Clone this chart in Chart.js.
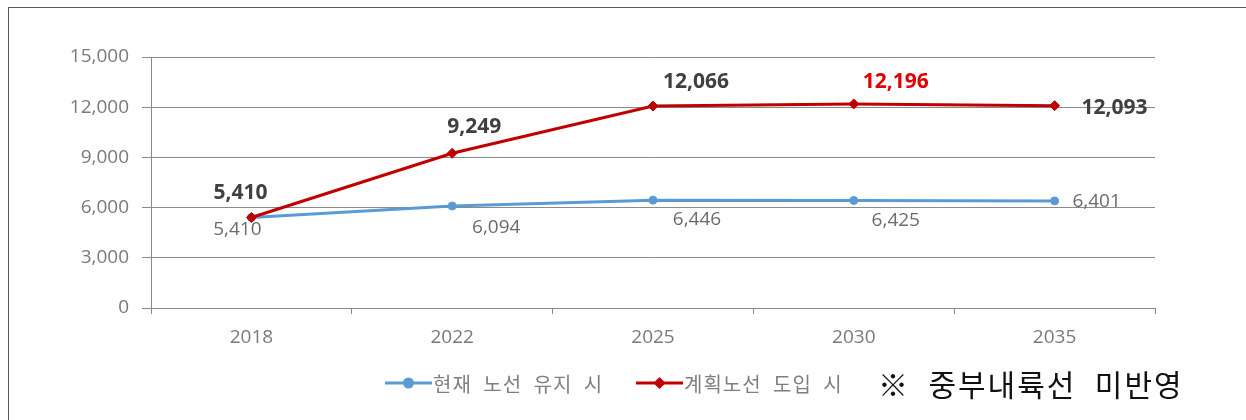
<!DOCTYPE html>
<html lang="ko">
  <head>
    <meta charset="UTF-8" />
    <title>노선 비교</title>
    <script src="https://cdn.jsdelivr.net/npm/chart.js@4.4.1/dist/chart.umd.min.js"></script>
    <style>
      html, body { margin: 0; padding: 0; background: #fff; }
      #wrap { position: relative; width: 1246px; height: 420px; overflow: hidden; }
      #frame {
        position: absolute; left: 8px; top: 7px; width: 1300px; height: 500px;
        border-left: 1px solid #5a5a5a; border-top: 1px solid #5a5a5a;
      }
      #note {
        position: absolute; left: 878px; top: 361px;
        font-family: "Noto Sans CJK KR", sans-serif; font-size: 30px;
        letter-spacing: 2px; word-spacing: 8px; color: #111; white-space: nowrap;
      }
      canvas { position: absolute; left: 0; top: 0; }
    </style>
  </head>
  <body>
    <div id="wrap">
      <div id="frame"></div>
      <canvas id="chart" width="1246" height="420"></canvas>
      <div id="note">※ 중부내륙선 미반영</div>
    </div>
    <script>
      const years = ['2018', '2022', '2025', '2030', '2035'];
      const currentRoute = [5410, 6094, 6446, 6425, 6401];
      const plannedRoute = [5410, 9249, 12066, 12196, 12093];
      const seriesNames = ['현재 노선 유지 시', '계획노선 도입 시'];

      const blue = '#5B9BD5';
      const red = '#C00000';

      // label offsets relative to each point (px)
      const labelStyle = {
        0: {
          offsets: [[-14, 12], [44, 22], [44, 19], [42, 20], [42, 1]],
          font: '400 19px "Open Sans"',
          colors: ['#6b6b6b', '#6b6b6b', '#6b6b6b', '#6b6b6b', '#6b6b6b']
        },
        1: {
          offsets: [[-11, -24], [22, -26], [43, -24], [42, -22], [60, 2]],
          font: '700 21px "Open Sans"',
          colors: ['#404040', '#404040', '#404040', '#E00000', '#404040']
        }
      };

      const pointLabels = {
        id: 'pointLabels',
        afterDatasetsDraw(chart) {
          const ctx = chart.ctx;
          ctx.save();
          ctx.textAlign = 'center';
          ctx.textBaseline = 'middle';
          chart.data.datasets.forEach((ds, i) => {
            const st = labelStyle[i];
            chart.getDatasetMeta(i).data.forEach((pt, j) => {
              ctx.font = st.font;
              ctx.fillStyle = st.colors[j];
              ctx.fillText(
                ds.data[j].toLocaleString('en-US'),
                pt.x + st.offsets[j][0],
                pt.y + st.offsets[j][1]
              );
            });
          });
          ctx.restore();
        }
      };

      const bottomLegend = {
        id: 'bottomLegend',
        afterDraw(chart) {
          const ctx = chart.ctx;
          const y = 383;
          const items = [
            { x: 385, color: blue, style: 'circle' },
            { x: 636, color: red, style: 'rectRot' }
          ];
          ctx.save();
          items.forEach((it, i) => {
            ctx.strokeStyle = it.color;
            ctx.lineWidth = 3;
            ctx.beginPath();
            ctx.moveTo(it.x, y);
            ctx.lineTo(it.x + 47, y);
            ctx.stroke();
            ctx.fillStyle = it.color;
            Chart.helpers.drawPoint(ctx, { pointStyle: it.style, radius: 4, borderWidth: 1 }, it.x + 23.5, y);
            ctx.fill();
            ctx.font = '400 20px "Noto Sans CJK KR"';
            ctx.letterSpacing = '1px';
            ctx.wordSpacing = '6px';
            ctx.fillStyle = '#7f7f7f';
            ctx.textBaseline = 'middle';
            ctx.textAlign = 'left';
            ctx.fillText(seriesNames[i], it.x + 48, y + 1);
          });
          ctx.restore();
        }
      };

      new Chart(document.getElementById('chart'), {
        type: 'line',
        data: {
          labels: years,
          datasets: [
            {
              label: seriesNames[0],
              data: currentRoute,
              borderColor: blue,
              backgroundColor: blue,
              borderWidth: 3,
              pointStyle: 'circle',
              pointRadius: 4,
              pointBorderWidth: 1,
              order: 1
            },
            {
              label: seriesNames[1],
              data: plannedRoute,
              borderColor: red,
              backgroundColor: red,
              borderWidth: 3,
              pointStyle: 'rectRot',
              pointRadius: 5,
              pointBorderWidth: 1,
              order: 0
            }
          ]
        },
        options: {
          responsive: false,
          animation: false,
          layout: { padding: { left: 0, top: 57, right: 91, bottom: 0 } },
          plugins: {
            legend: { display: false },
            tooltip: { enabled: false }
          },
          scales: {
            x: {
              offset: true,
              afterFit: (s) => { s.height = 112; },
              grid: {
                offset: true,
                drawOnChartArea: false,
                drawTicks: true,
                tickLength: 6,
                color: '#888'
              },
              border: { color: '#888', width: 1 },
              ticks: {
                padding: 12,
                color: '#7a7a7a',
                font: { family: 'Open Sans', size: 19 }
              }
            },
            y: {
              min: 0,
              max: 15000,
              afterFit: (s) => { s.width = 151; },
              grid: {
                color: '#8a8a8a',
                tickLength: 9,
                lineWidth: 1
              },
              border: { color: '#8a8a8a', width: 1 },
              ticks: {
                stepSize: 3000,
                padding: 13,
                color: '#7a7a7a',
                font: { family: 'Open Sans', size: 19 },
                callback: (v) => v.toLocaleString('en-US')
              }
            }
          }
        },
        plugins: [pointLabels, bottomLegend]
      });
    </script>
  </body>
</html>
